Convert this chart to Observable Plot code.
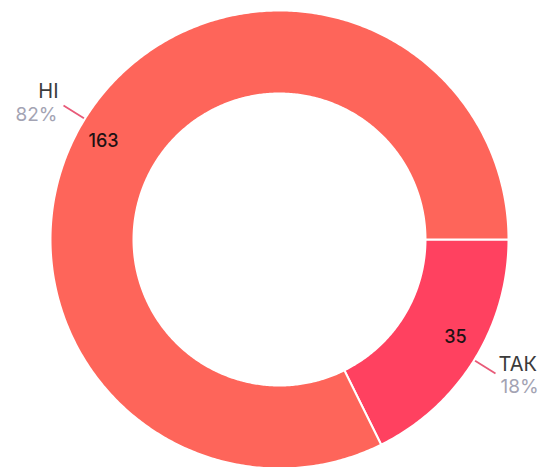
<!DOCTYPE html>
<html>
<head>
<meta charset="utf-8">
<script src="https://cdn.jsdelivr.net/npm/d3@7"></script>
<script src="https://cdn.jsdelivr.net/npm/@observablehq/plot@0.6"></script>
<style>
  html, body { margin: 0; padding: 0; background: #fff; }
  #chart svg { display: block; }
</style>
</head>
<body>
<div id="chart"></div>
<script>
// ---- data ----
const categories = ["ТАК", "НІ"];
const values = [35, 163];
const percentLabels = ["18%", "82%"];
const colors = ["#ff4160", "#fe655a"];

// ---- layout ----
const W = 544, H = 467;
const cx = 279, cy = 239, R = 229;      // pixels
const inner = 146 / 229;                // inner radius ratio
const px = 1 / R;                        // one pixel in data units

const arcs = d3.pie().sort(null)
  .startAngle(Math.PI / 2)
  .endAngle(Math.PI / 2 + 2 * Math.PI)(values);

const pt = (a, r) => ({x: Math.sin(a) * r, y: Math.cos(a) * r});

// polygons for each slice
const poly = [];
arcs.forEach((d, i) => {
  const n = Math.max(8, Math.ceil((d.endAngle - d.startAngle) / 0.01));
  const pts = [];
  for (let k = 0; k <= n; k++) pts.push(pt(d.startAngle + (d.endAngle - d.startAngle) * k / n, 1));
  for (let k = n; k >= 0; k--) pts.push(pt(d.startAngle + (d.endAngle - d.startAngle) * k / n, inner));
  pts.push(pts[0]);
  pts.forEach(p => poly.push({cat: categories[i], ...p}));
});

const info = arcs.map((d, i) => {
  const mid = (d.startAngle + d.endAngle) / 2;
  const side = Math.sin(mid) >= 0 ? 1 : -1;
  // value label slightly rotated toward the horizontal
  const tilt = Math.cos(mid) >= 0 ? side : -side;
  const v = pt(mid + tilt * 0.047, 0.88);
  const a = pt(mid, 1.005);
  const b = pt(mid, 1.11);
  return {
    cat: categories[i], value: values[i], pct: percentLabels[i], side,
    vx: v.x, vy: v.y, x1: a.x, y1: a.y, x2: b.x, y2: b.y
  };
});

const marks = [
  Plot.line(poly, {x: "x", y: "y", z: "cat", fill: "cat", stroke: "#fff", strokeWidth: 2, curve: "linear"}),
  Plot.text(info, {x: "vx", y: "vy", text: d => String(d.value), fill: "#1e1214", fontSize: 18, fontWeight: 500}),
  Plot.link(info, {x1: "x1", y1: "y1", x2: "x2", y2: "y2", stroke: "#e85a78", strokeWidth: 1.8})
];
info.forEach(d => {
  const left = d.side < 0;
  marks.push(Plot.text([d], {
    x: d => d.x2 + (left ? -5 : 3) * px,
    y: d => d.y2 + (left ? 13.5 : 8.5) * px,
    text: "cat", textAnchor: left ? "end" : "start",
    fill: "#3b3b3b", fontSize: 20
  }));
  marks.push(Plot.text([d], {
    x: d => d.x2 + (left ? -6 : 5) * px,
    y: d => d.y2 - (left ? 9 : 13.5) * px,
    text: "pct", textAnchor: left ? "end" : "start",
    fill: "#a3a3b3", fontSize: 19
  }));
});

const chart = Plot.plot({
  width: W, height: H,
  margin: 0,
  style: {fontFamily: "Inter, 'Noto Sans', sans-serif", background: "#fff"},
  x: {domain: [-cx / R, (W - cx) / R], axis: null},
  y: {domain: [-(H - cy) / R, cy / R], axis: null},
  color: {domain: categories, range: colors},
  marks
});
document.getElementById("chart").appendChild(chart);
</script>
</body>
</html>
